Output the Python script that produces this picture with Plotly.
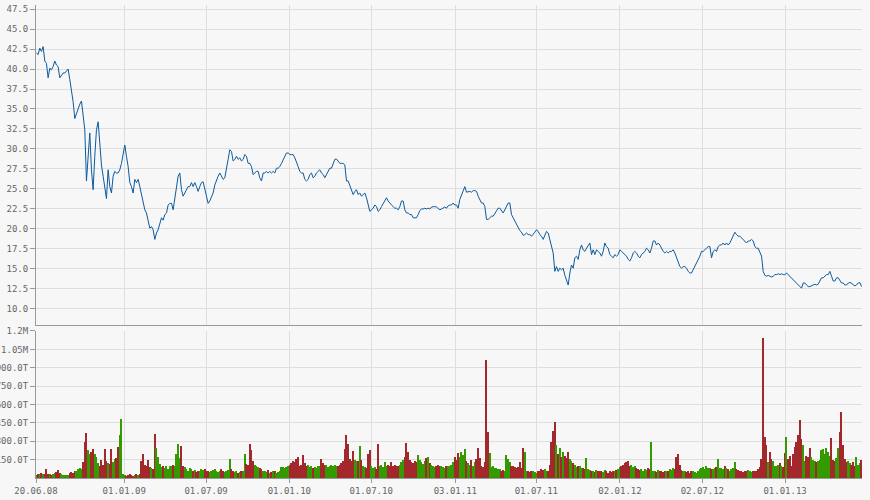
import pandas as pd
import plotly.graph_objects as go

start_date = "2008-06-21"
end_date = "2013-06-19"

price_2008_09 = [
    42.0, 41.8, 42.6, 42.2, 42.8, 41.0, 40.7, 38.9, 40.1, 39.9,
    40.3, 41.0, 40.5, 40.3, 38.9, 39.3, 39.5, 39.5, 39.7, 40.0,
    38.7, 37.4, 35.9, 33.8, 34.5, 35.0, 35.6, 36.0, 34.5, 32.4,
    26.0, 28.7, 32.0, 27.4, 24.9, 29.1, 32.4, 33.4, 30.0, 28.0,
    26.6, 24.9, 23.8, 27.4, 25.3, 24.5, 26.6, 27.2, 27.0, 27.0,
    27.4, 28.2, 29.5, 30.5, 29.1, 27.8, 25.8, 25.3, 24.5, 26.2,
    25.8, 26.2, 25.3, 24.3, 23.7, 22.4, 22.0, 20.8, 20.1, 20.3,
    19.9, 18.7, 19.5, 19.9, 20.8, 21.4, 21.1, 21.8, 22.0, 23.0,
    23.2, 23.2, 22.4, 23.7, 24.9, 26.6, 27.0, 24.9, 24.1, 24.5,
    24.9, 25.3, 25.3, 25.8, 25.3, 25.8, 25.3, 24.7, 25.3, 25.8,
    25.9, 24.9, 24.3, 23.2, 23.5, 24.1, 24.5, 25.5, 26.2, 26.6,
]
price_2009_10 = [
    27.0, 26.5, 26.2, 26.4, 27.8, 28.7, 29.9, 29.7, 28.5, 28.7,
    29.1, 28.7, 28.9, 28.5, 28.7, 29.3, 29.1, 28.2, 28.2, 27.8,
    26.8, 27.0, 27.2, 27.2, 26.4, 26.0, 27.0, 27.0, 27.2, 27.0,
    27.2, 27.0, 27.2, 27.0, 27.6, 27.6, 27.8, 28.2, 28.7, 29.1,
    29.5, 29.5, 29.3, 29.3, 29.3, 28.9, 28.2, 27.8, 27.2, 27.0,
    27.0, 26.2, 26.0, 26.2, 26.8, 27.0, 26.4, 26.6, 27.0, 27.2,
    27.4, 27.0, 26.8, 26.4, 26.8, 27.2, 27.6, 27.6, 28.2, 28.7,
    28.75, 28.5, 28.2, 28.2, 28.2, 28.0, 26.0, 26.0, 25.5, 24.9,
    24.3, 24.7, 24.9, 24.3, 24.5, 24.1, 24.3, 24.5, 23.9, 22.8,
    22.2, 22.4, 22.6, 23.0, 22.8, 22.2, 22.4, 22.8, 23.2, 23.5,
    23.9, 23.5, 23.2, 23.0, 22.8, 22.6, 22.6, 22.4, 22.8, 23.5,
    23.5, 22.4, 22.0, 22.0, 21.8, 21.8, 21.4, 21.4, 21.4, 21.8,
]
price_2010_12 = [
    22.3, 22.5, 22.5, 22.6, 22.5, 22.6, 22.5, 22.75, 22.8, 22.8,
    22.75, 22.6, 22.4, 22.5, 22.6, 22.75, 22.6, 22.9, 23.0, 23.0,
    23.25, 23.0, 23.0, 22.6, 23.7, 24.3, 24.9, 25.3, 24.6, 24.7,
    24.7, 24.6, 24.8, 24.8, 24.7, 24.1, 23.7, 23.25, 23.25, 22.8,
    21.2, 21.2, 21.4, 21.6, 21.6, 22.0, 22.4, 22.6, 22.6, 22.2,
    22.0, 22.4, 22.8, 23.25, 23.25, 21.8, 21.4, 21.0, 20.5, 20.0,
    19.8, 19.6, 19.2, 19.3, 19.5, 19.3, 19.3, 19.1, 19.3, 19.6,
    19.9, 19.7, 19.3, 19.1, 18.7, 19.3, 19.7, 19.5, 18.7, 18.0,
    17.0, 14.7, 15.3, 14.7, 15.1, 14.9, 15.1, 14.2, 13.7, 13.0,
    14.5, 15.5, 15.1, 16.4, 16.6, 16.2, 17.4, 18.0, 17.4, 17.2,
    17.6, 18.0, 18.25, 16.8, 17.4, 16.8, 17.4, 17.2, 17.0, 16.6,
    17.2, 18.25, 17.8, 17.6,
]
price_2012_13 = [
    16.8, 16.6, 16.4, 16.8, 16.6, 16.8, 17.4, 17.2, 17.0, 16.8,
    16.6, 16.2, 16.0, 16.4, 17.0, 17.2, 17.0, 16.6, 16.4, 16.8,
    17.0, 17.2, 17.6, 17.4, 17.0, 17.6, 18.5, 18.5, 18.0, 18.25,
    18.0, 17.6, 17.2, 17.0, 17.2, 17.0, 17.2, 17.2, 17.4, 17.0,
    16.4, 15.75, 15.3, 15.1, 15.3, 15.3, 15.1, 14.7, 14.5, 14.5,
    14.9, 15.3, 15.75, 16.0, 16.6, 17.2, 17.2, 17.4, 17.6, 17.8,
    17.8, 16.4, 17.2, 17.4, 17.2, 17.8, 18.0, 18.0, 18.25, 18.0,
    18.25, 18.0, 18.25, 18.7, 19.1, 19.6, 19.3, 19.1, 19.1, 18.9,
    18.7, 18.5, 18.25, 18.5, 18.5, 18.7, 18.5, 17.8, 17.6, 17.6,
    17.2, 16.6, 14.7, 14.2, 14.1, 14.2, 14.1, 14.0, 14.1, 14.3,
    14.3, 14.4, 14.3, 14.4, 14.3, 14.3, 14.5, 14.3, 14.1, 13.9,
    13.7, 13.5, 13.25, 13.0, 12.8, 12.6, 13.25, 13.25, 13.0, 12.8,
    12.8, 12.9, 13.0, 13.1, 13.0, 13.1, 13.5, 13.9, 13.9, 14.1,
    14.3, 14.3, 14.7, 14.1, 13.5, 13.5, 13.9, 13.9, 13.5, 13.25,
    13.25, 13.0, 13.0, 13.25, 13.3, 13.25, 13.0, 12.9, 13.0, 13.25,
    13.3, 12.8,
]

# volume in thousands, same sampling
volume_first_half = [
    25, 35, 30, 45, 35, 30, 70, 35, 30, 25, 30, 40,
    50, 66, 45, 30, 25, 25, 25, 28,
    45, 50, 40, 55, 60, 75, 80, 70,
    130, 290, 370, 225, 200, 215, 240, 200,
    170, 120, 100, 150, 110, 240, 140, 120,
    115, 240, 130, 156, 165, 250, 350, 485,
    30, 25, 20, 25, 30, 25, 20, 25, 30, 25, 35,
    142, 197, 110, 100, 148, 90, 80, 75,
    360, 244, 170, 115, 90, 100, 80, 95,
    75, 100, 95, 110, 100, 192, 280, 165,
    265, 100, 90, 70, 60, 85, 70, 55, 65,
    50, 60, 55, 70, 65, 74, 60, 55, 50, 60,
    65, 70, 55, 50, 60, 70, 55, 50, 60, 65,
    156, 70, 60, 50, 55, 45, 50, 55, 60, 197,
    115, 110, 280, 230, 140, 110, 100, 90, 80, 74,
    60, 55, 50, 65, 45, 50, 55, 60, 45, 50,
    60, 88, 90, 80, 88, 100, 110, 120, 140, 130,
    156, 175, 100, 110, 189, 120, 100, 110, 90, 95,
    85, 90, 80, 100, 95, 156, 120, 105, 110, 90,
    100, 105, 95, 110, 100, 95, 110, 120, 140, 240,
    353, 280, 156, 140, 219, 150, 140, 135, 265, 150,
    100, 90, 80, 197, 230, 100, 80, 90, 70, 280,
    100, 110, 90, 130, 100, 110, 95, 130, 100, 110,
    95, 100, 110, 130, 150, 175, 288, 210, 150, 130,
    120, 140, 130, 189, 150, 130, 115, 140, 160, 170,
    120, 110, 100, 90, 100, 110, 95, 100, 90, 85, 100, 95,
]
volume_second_half = [
    100, 110, 130, 170, 150, 203, 172, 216, 190, 238,
    140, 120, 110, 150, 100, 130, 156, 244, 160, 100,
    90, 130, 960, 375, 205, 88, 95, 85, 80, 75,
    70, 60, 65, 60, 184, 156, 134, 100, 95, 90,
    85, 90, 134, 80, 244, 211, 60, 55, 50, 60,
    55, 50, 45, 55, 60, 70, 65, 75, 60, 55,
    110, 293, 384, 458, 266, 200, 244, 170, 211, 180,
    160, 211, 156, 140, 120, 110, 90, 100, 95, 85,
    80, 75, 162, 70, 65, 60, 55, 50, 65, 60,
    55, 60, 50, 65, 55, 45, 60, 50, 55, 60,
    65, 75, 90, 100, 110, 120, 134, 137, 100, 110,
    90, 100, 80, 70, 65, 75, 60, 70, 65, 80,
    70, 293, 60, 55, 50, 65, 60, 55, 50, 60,
    55, 60, 70, 65, 80, 75, 170, 197, 110, 65,
    60, 55, 50, 60, 45, 55, 60, 50, 45, 55,
    70, 80, 90, 75, 100, 85, 80, 70, 75, 80,
    90, 156, 85, 80, 75, 95, 80, 70, 60, 75,
    80, 134, 70, 65, 55, 60, 50, 55, 60, 65,
    55, 50, 60, 55, 60, 70, 88, 156, 1140, 334,
    266, 130, 211, 156, 140, 100, 95, 110, 120, 100,
    90, 205, 334, 156, 178, 100, 200, 250, 293, 353,
    471, 315, 266, 140, 180, 175, 244, 170, 150, 140,
    130, 140, 150, 225, 240, 200, 244, 210, 180, 326,
    150, 140, 160, 244, 375, 540, 270, 156, 130, 140,
    120, 110, 130, 100, 170, 110, 120, 148,
]

tick_dates = ["2008-06-20", "2009-01-01", "2009-07-01", "2010-01-01", "2010-07-01",
              "2011-01-03", "2011-07-01", "2012-01-02", "2012-07-02", "2013-01-01"]
tick_labels = ["20.06.08", "01.01.09", "01.07.09", "01.01.10", "01.07.10",
               "03.01.11", "01.07.11", "02.01.12", "02.07.12", "01.01.13"]
price_ticks = [10.0, 12.5, 15.0, 17.5, 20.0, 22.5, 25.0, 27.5, 30.0, 32.5, 35.0,
               37.5, 40.0, 42.5, 45.0, 47.5]
volume_ticks = [150, 300, 450, 600, 750, 900, 1050, 1200]
volume_tick_labels = ["150.0T", "300.0T", "450.0T", "600.0T", "750.0T", "900.0T",
                      "1.05M", "1.2M"]

prices = price_2008_09 + price_2009_10 + price_2010_12 + price_2012_13
volumes = volume_first_half + volume_second_half
n = min(len(prices), len(volumes))
prices = prices[:n]
volumes = volumes[:n]
dates = pd.date_range(start_date, end_date, periods=n)

RED = "#a3282c"
GREEN = "#339a00"
colors = []
for i, p in enumerate(prices):
    if i == 0:
        colors.append(GREEN)
    elif p > prices[i - 1]:
        colors.append(GREEN)
    elif p < prices[i - 1]:
        colors.append(RED)
    else:
        colors.append(colors[-1])

step_ms = (dates[1] - dates[0]).total_seconds() * 1000

tick_font = dict(family="DejaVu Sans Mono", size=9, color="#666666")
GRID = "#dedede"
AXIS = "#999999"

fig = go.Figure()
fig.add_trace(go.Scatter(x=dates, y=prices, mode="lines",
                         line=dict(color="#0c5a9e", width=1),
                         xaxis="x2", yaxis="y2", showlegend=False,
                         hoverinfo="skip"))
fig.add_trace(go.Bar(x=dates, y=volumes, marker=dict(color=colors, line=dict(width=0)),
                     width=step_ms * 0.85, xaxis="x", yaxis="y",
                     showlegend=False, hoverinfo="skip"))

x_range = ["2008-06-20", "2013-06-20"]

fig.update_layout(
    width=870, height=500,
    margin=dict(l=36, r=8, t=5, b=22, autoexpand=False),
    paper_bgcolor="#f7f7f7", plot_bgcolor="#f7f7f7",
    bargap=0,
    xaxis=dict(domain=[0, 1], anchor="y", type="date", range=x_range,
               tickmode="array", tickvals=tick_dates, ticktext=tick_labels,
               tickfont=tick_font, showgrid=True, gridcolor=GRID, gridwidth=1,
               showline=True, linecolor=AXIS, linewidth=1, automargin=False,
               ticks="outside", ticklen=4, tickcolor=AXIS, zeroline=False),
    yaxis=dict(domain=[0, 0.3108], anchor="x", range=[0, 1200],
               tickmode="array", tickvals=volume_ticks, ticktext=volume_tick_labels,
               tickfont=tick_font, showgrid=True, gridcolor=GRID, gridwidth=1,
               showline=True, linecolor=AXIS, linewidth=1, automargin=False,
               ticks="outside", ticklen=5, tickcolor=AXIS, zeroline=False),
    xaxis2=dict(domain=[0, 1], anchor="y2", type="date", range=x_range,
                matches="x", tickmode="array", tickvals=tick_dates,
                showticklabels=False, showgrid=True, gridcolor=GRID, gridwidth=1,
                showline=True, linecolor=AXIS, linewidth=1, ticks="",
                automargin=False, zeroline=False),
    yaxis2=dict(domain=[0.3235, 1], anchor="x2", range=[8, 48],
                tickmode="array", tickvals=price_ticks, tickformat=".1f",
                tickfont=tick_font, showgrid=True, gridcolor=GRID, gridwidth=1,
                showline=True, linecolor=AXIS, linewidth=1, automargin=False,
                ticks="outside", ticklen=5, tickcolor=AXIS, zeroline=False),
)

fig.write_html(
    "out.html",
    config={"displayModeBar": False},
    post_script="document.body.style.margin='0';document.body.style.overflow='hidden';",
)
